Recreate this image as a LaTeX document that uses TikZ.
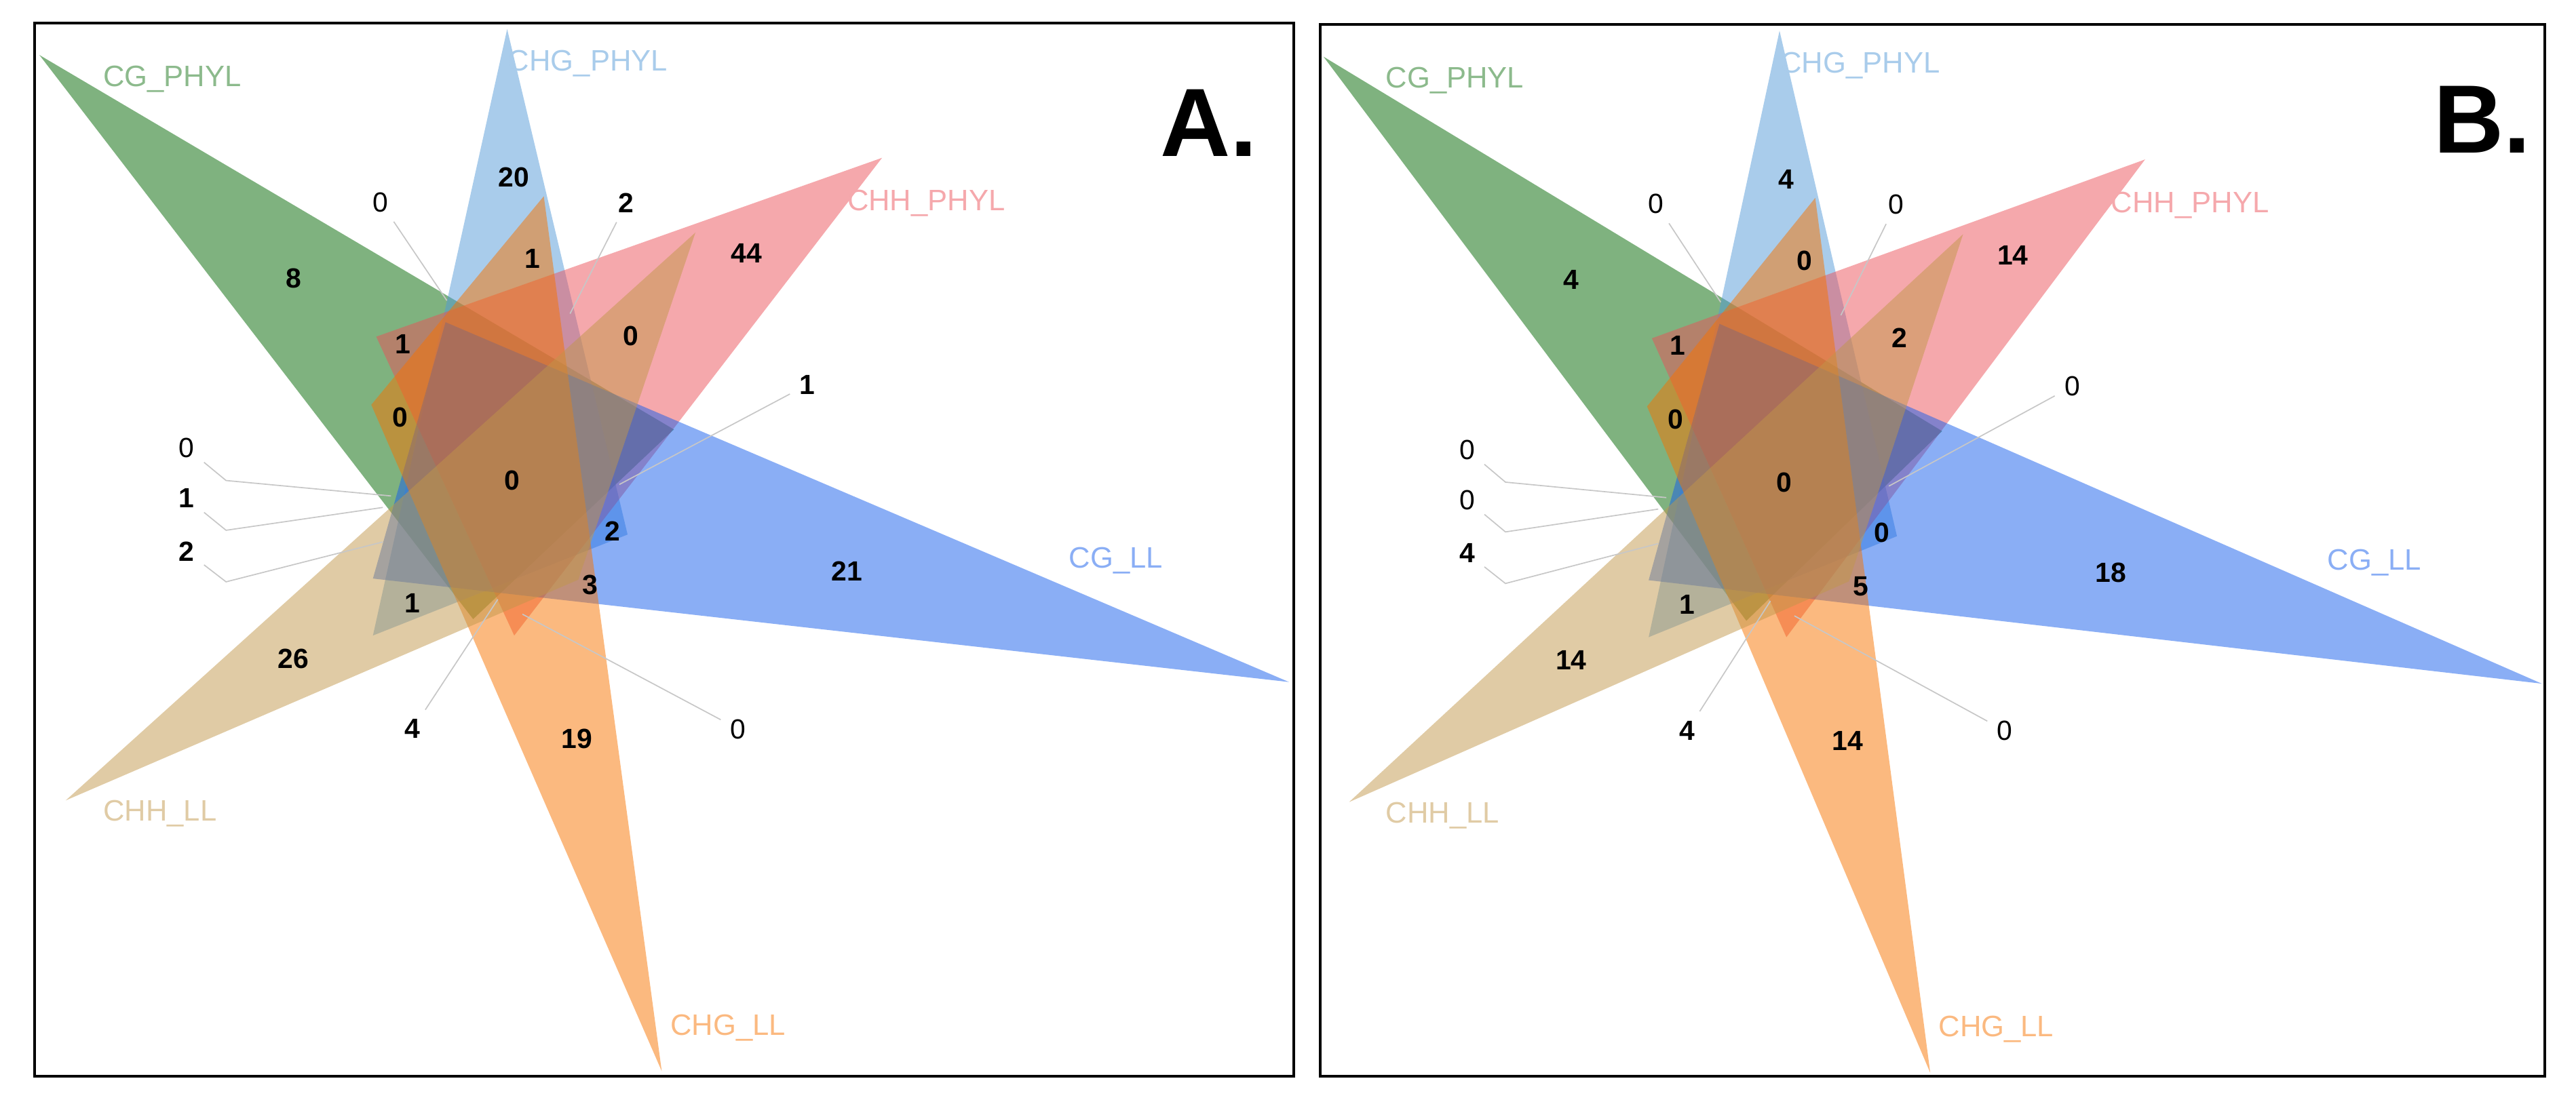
\documentclass[tikz,border=0pt]{standalone}
\usepackage{fontspec}
\setmainfont{Liberation Sans}
\definecolor{cgphyl}{RGB}{0,101,0}
\definecolor{chgphyl}{RGB}{83,153,215}
\definecolor{chhphyl}{RGB}{235,81,89}
\definecolor{cgll}{RGB}{21,93,235}
\definecolor{chgll}{RGB}{247,115,0}
\definecolor{chhll}{RGB}{193,151,75}

\begin{document}
\begin{tikzpicture}[
    x=0.025cm, y=-0.025cm,
    settri/.style={fill opacity=0.5},
    setname/.style={font=\fontsize{12.8}{14}\selectfont, anchor=base west, inner sep=0pt},
    cnt/.style={font=\fontsize{12}{14}\selectfont\bfseries, inner sep=1pt},
    cntfar/.style={cnt, inner sep=4pt},
    zerolbl/.style={font=\fontsize{12}{14}\selectfont},
    lead/.style={draw=black!22, line width=0.5pt},
    panel/.style={draw, line width=1.2pt},
    tag/.style={font=\fontsize{42}{48}\selectfont\bfseries, anchor=base west, inner sep=0pt}
]
\useasboundingbox (0,0) rectangle (1568,671);

% panel A
\draw[panel] (21,14) rectangle (787.5,655.5);
\fill[settri, cgphyl] (24,33.5) -- (410.2,261.5) -- (288,377) -- cycle;
\fill[settri, chgphyl] (308.7,17.7) -- (382,325.5) -- (227,387) -- cycle;
\fill[settri, chhphyl] (536.9,96.1) -- (229,205) -- (313,387) -- cycle;
\fill[settri, cgll] (784.6,415.3) -- (271.2,196.2) -- (227,352.3) -- cycle;
\fill[settri, chgll] (402.8,652.3) -- (331,119.5) -- (226,246.5) -- cycle;
\fill[settri, chhll] (40,487.4) -- (423.3,141.6) -- (352,353) -- cycle;

\node[setname, text=cgphyl!45] (acg) at (62.6,52.5) {CG\_PHYL};
\node[setname, text=chgphyl!50] (achg) at (309,43.2) {CHG\_PHYL};
\node[setname, text=chhphyl!50] (achh) at (515.5,128.4) {CHH\_PHYL};
\node[setname, text=cgll!50] (acgll) at (650.5,346) {CG\_LL};
\node[setname, text=chgll!50] (achgll) at (407.8,630.3) {CHG\_LL};
\node[setname, text=chhll!50] (achhll) at (62.6,500) {CHH\_LL};

\node[cnt] (a1) at (178.6,169.5) {8};
\node[cnt] (a2) at (312.7,108) {20};
\node[cntfar, zerolbl] (a3) at (231.7,123.1) {0};
\node[cntfar] (a4) at (381.3,123.5) {2};
\node[cnt] (a5) at (324.2,157.7) {1};
\node[cnt] (a6) at (454.3,154.4) {44};
\node[cnt] (a7) at (245.2,209.5) {1};
\node[cnt] (a8) at (383.8,204.7) {0};
\node[cntfar] (a9) at (491.4,234.3) {1};
\node[cnt] (a10) at (243.7,254.2) {0};
\node[cnt] (a11) at (311.7,292.6) {0};
\node[cnt] (a12) at (372.8,323.3) {2};
\node[cntfar, zerolbl] (a13) at (113.6,272.8) {0};
\node[cntfar] (a14) at (113.6,303.4) {1};
\node[cntfar] (a15) at (113.6,335.8) {2};
\node[cnt] (a16) at (515.4,347.8) {21};
\node[cnt] (a17) at (359.3,356) {3};
\node[cnt] (a18) at (251.2,367.3) {1};
\node[cnt] (a19) at (178.6,401.1) {26};
\node[cntfar] (a20) at (251.2,443.9) {4};
\node[cnt] (a21) at (351.3,450) {19};
\node[cntfar, zerolbl] (a22) at (449.3,443.9) {0};

\coordinate (a3t) at (272,183);
\coordinate (a4t) at (347,191);
\coordinate (a9t) at (377,295);
\coordinate (a13k) at (137.6,292.6);
\coordinate (a13t) at (238,302);
\coordinate (a14k) at (137.6,322.9);
\coordinate (a14t) at (233,309);
\coordinate (a15k) at (137.6,354.3);
\coordinate (a15t) at (233,330);
\coordinate (a20t) at (303,365);
\coordinate (a22t) at (318,374);
\draw[lead] (a3) -- (a3t);
\draw[lead] (a4) -- (a4t);
\draw[lead] (a9) -- (a9t);
\draw[lead] (a13) -- (a13k) -- (a13t);
\draw[lead] (a14) -- (a14k) -- (a14t);
\draw[lead] (a15) -- (a15k) -- (a15t);
\draw[lead] (a20) -- (a20t);
\draw[lead] (a22) -- (a22t);

\node[tag] (atag) at (706,95) {A.};

% panel B
\draw[panel] (803.5,14.7) rectangle (1549,655.5);
\begin{scope}[shift={(782.2,1)}, xscale=0.975]
\fill[settri, cgphyl] (24,33.5) -- (410.2,261.5) -- (288,377) -- cycle;
\fill[settri, chgphyl] (308.7,17.7) -- (382,325.5) -- (227,387) -- cycle;
\fill[settri, chhphyl] (536.9,96.1) -- (229,205) -- (313,387) -- cycle;
\fill[settri, cgll] (784.6,415.3) -- (271.2,196.2) -- (227,352.3) -- cycle;
\fill[settri, chgll] (402.8,652.3) -- (331,119.5) -- (226,246.5) -- cycle;
\fill[settri, chhll] (40,487.4) -- (423.3,141.6) -- (352,353) -- cycle;

\node[setname, text=cgphyl!45] (bcg) at (62.6,52.5) {CG\_PHYL};
\node[setname, text=chgphyl!50] (bchg) at (309,43.2) {CHG\_PHYL};
\node[setname, text=chhphyl!50] (bchh) at (515.5,128.4) {CHH\_PHYL};
\node[setname, text=cgll!50] (bcgll) at (650.5,346) {CG\_LL};
\node[setname, text=chgll!50] (bchgll) at (407.8,630.3) {CHG\_LL};
\node[setname, text=chhll!50] (bchhll) at (62.6,500) {CHH\_LL};

\node[cnt] (b1) at (178.6,169.5) {4};
\node[cnt] (b2) at (312.7,108) {4};
\node[cntfar, zerolbl] (b3) at (231.7,123.1) {0};
\node[cntfar, zerolbl] (b4) at (381.3,123.5) {0};
\node[cnt] (b5) at (324.2,157.7) {0};
\node[cnt] (b6) at (454.3,154.4) {14};
\node[cnt] (b7) at (245.2,209.5) {1};
\node[cnt] (b8) at (383.8,204.7) {2};
\node[cntfar, zerolbl] (b9) at (491.4,234.3) {0};
\node[cnt] (b10) at (243.7,254.2) {0};
\node[cnt] (b11) at (311.7,292.6) {0};
\node[cnt] (b12) at (372.8,323.3) {0};
\node[cntfar, zerolbl] (b13) at (113.6,272.8) {0};
\node[cntfar, zerolbl] (b14) at (113.6,303.4) {0};
\node[cntfar] (b15) at (113.6,335.8) {4};
\node[cnt] (b16) at (515.4,347.8) {18};
\node[cnt] (b17) at (359.3,356) {5};
\node[cnt] (b18) at (251.2,367.3) {1};
\node[cnt] (b19) at (178.6,401.1) {14};
\node[cntfar] (b20) at (251.2,443.9) {4};
\node[cnt] (b21) at (351.3,450) {14};
\node[cntfar, zerolbl] (b22) at (449.3,443.9) {0};

\coordinate (b3t) at (272,183);
\coordinate (b4t) at (347,191);
\coordinate (b9t) at (377,295);
\coordinate (b13k) at (137.6,292.6);
\coordinate (b13t) at (238,302);
\coordinate (b14k) at (137.6,322.9);
\coordinate (b14t) at (233,309);
\coordinate (b15k) at (137.6,354.3);
\coordinate (b15t) at (233,330);
\coordinate (b20t) at (303,365);
\coordinate (b22t) at (318,374);
\draw[lead] (b3) -- (b3t);
\draw[lead] (b4) -- (b4t);
\draw[lead] (b9) -- (b9t);
\draw[lead] (b13) -- (b13k) -- (b13t);
\draw[lead] (b14) -- (b14k) -- (b14t);
\draw[lead] (b15) -- (b15k) -- (b15t);
\draw[lead] (b20) -- (b20t);
\draw[lead] (b22) -- (b22t);
\end{scope}

\node[tag] (btag) at (1481,93) {B.};
\end{tikzpicture}
\end{document}
